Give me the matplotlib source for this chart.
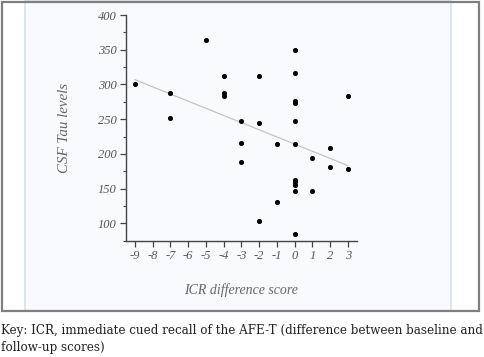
import numpy as np
import matplotlib
matplotlib.use("Agg")
import matplotlib.pyplot as plt
from matplotlib.patches import Rectangle
from matplotlib.ticker import MultipleLocator

plt.rcParams["axes.unicode_minus"] = False

# ICR difference score vs CSF Tau levels
icr = [-9, -7, -7, -5, -4, -4, -4, -3, -3, -3, -2, -2, -2,
       -1, -1, 0, 0, 0, 0, 0, 0, 0, 0, 0, 0, 0,
       1, 1, 2, 2, 3, 3]
tau = [300, 287, 252, 364, 312, 288, 284, 248, 215, 188, 312, 245, 103,
       214, 131, 349, 317, 276, 273, 247, 214, 162, 159, 155, 147, 84,
       194, 147, 208, 181, 283, 178]
xticks = list(range(-9, 4))
yticks = [100, 150, 200, 250, 300, 350, 400]
caption = ("Key: ICR, immediate cued recall of the AFE-T (difference between baseline and\n"
           "follow-up scores)")

fig = plt.figure(figsize=(4.84, 3.57), dpi=100)
W, H = 484, 357

# outer frame and light panel
fig.patches.append(Rectangle((25 / W, 1 - 311 / H), 426 / W, 310 / H,
                             transform=fig.transFigure, facecolor="#f9fafe",
                             edgecolor="#d5e1ea", linewidth=1.2, zorder=-2))
fig.patches.append(Rectangle((1.5 / W, 1 - 311 / H), 477 / W, 309.5 / H,
                             transform=fig.transFigure, facecolor="none",
                             edgecolor="#7f7f7f", linewidth=1.6, zorder=-1))

ax = fig.add_axes([126 / W, 1 - 240.7 / H, 230.7 / W, 225.7 / H])
ax.set_zorder(2)
ax.patch.set_visible(False)

ax.scatter(icr, tau, s=7, color="black", zorder=3)
k, b = np.polyfit(icr, tau, 1)
xs = np.array([-9, 3])
ax.plot(xs, k * xs + b, color="#c4c4c4", linewidth=0.9, zorder=2)

ax.set_xlim(-9.5, 3.5)
ax.set_ylim(75, 400)
ax.set_xticks(xticks)
ax.set_yticks(yticks)
ax.yaxis.set_minor_locator(MultipleLocator(25))
for s in ["top", "right"]:
    ax.spines[s].set_visible(False)
for s in ["left", "bottom"]:
    ax.spines[s].set_color("#444444")
    ax.spines[s].set_linewidth(1.0)
ax.tick_params(which="major", length=4, width=0.9, color="#444444",
               labelsize=9, labelcolor="#555555", pad=3)
ax.tick_params(which="minor", length=2.5, width=0.8, color="#444444")
for lab in ax.get_xticklabels() + ax.get_yticklabels():
    lab.set_family("Liberation Serif")
    lab.set_style("italic")

fig.text(65 / W, 1 - 128 / H, "CSF Tau levels", rotation=90, ha="center", va="center",
         family="Liberation Serif", style="italic", fontsize=10.8, color="#666666")
fig.text(241 / W, 1 - 290 / H, "ICR difference score", ha="center", va="center",
         family="Liberation Serif", style="italic", fontsize=10, color="#666666")

fig.text(1 / W, 1 - 339 / H, caption, ha="left", va="center", family="DejaVu Serif",
         fontsize=8.6, color="#222222", linespacing=1.45)

fig.savefig("out.png", dpi=100)
